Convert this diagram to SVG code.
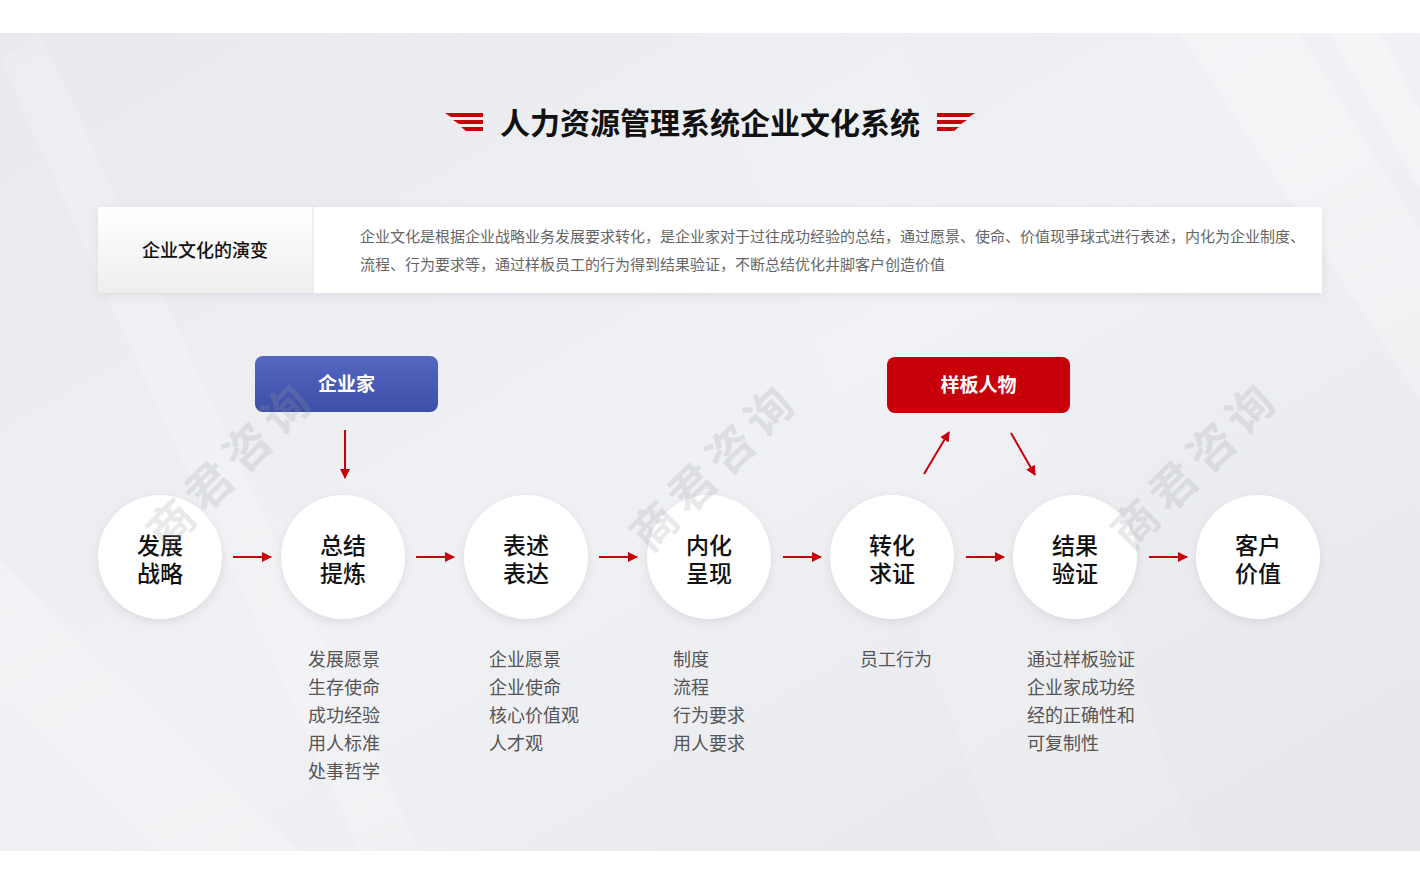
<svg xmlns="http://www.w3.org/2000/svg" width="1420" height="878" viewBox="0 0 1420 878">
<defs>
<linearGradient id="bg" x1="0" y1="0" x2="1" y2="1">
<stop offset="0" stop-color="#e9eaee"/>
<stop offset="0.5" stop-color="#f0f1f4"/>
<stop offset="1" stop-color="#e6e7eb"/>
</linearGradient>
<linearGradient id="blue" x1="0" y1="0" x2="0" y2="1">
<stop offset="0" stop-color="#5667c2"/>
<stop offset="1" stop-color="#3c4ea7"/>
</linearGradient>
<linearGradient id="cell" x1="0" y1="0" x2="0" y2="1">
<stop offset="0" stop-color="#ffffff"/>
<stop offset="1" stop-color="#eeeeef"/>
</linearGradient>
<filter id="sh" x="-20%" y="-20%" width="140%" height="150%">
<feDropShadow dx="0" dy="3" stdDeviation="5" flood-color="#8a8fa0" flood-opacity="0.22"/>
</filter>
<filter id="shb" x="-5%" y="-30%" width="110%" height="160%">
<feDropShadow dx="0" dy="2" stdDeviation="4" flood-color="#8a8fa0" flood-opacity="0.2"/>
</filter>
<marker id="ah" viewBox="0 0 10 10" refX="9" refY="5" markerWidth="10" markerHeight="10" markerUnits="userSpaceOnUse" orient="auto">
<path d="M0,0 L10,5 L0,10 Z" fill="#c8000a"/>
</marker>
<style>
.cjk{font-family:"Noto Sans CJK SC","Noto Sans",sans-serif;}
.circ{fill:#ffffff;filter:url(#sh);}
.ctext{font-size:23px;fill:#111;text-anchor:middle;font-weight:500;}
.list{font-size:18px;fill:#555;}
.conn{stroke:#c8000a;stroke-width:2;fill:none;marker-end:url(#ah);}
.wm{font-size:46px;font-weight:700;fill:#9a9ca4;fill-opacity:0.22;letter-spacing:8px;text-anchor:middle;}
.btext{font-size:19px;font-weight:700;fill:#fff;text-anchor:middle;}
</style>
</defs>
<rect x="0" y="0" width="1420" height="878" fill="#ffffff"/>
<rect x="0" y="33" width="1420" height="818" fill="url(#bg)"/>
<g fill="#ffffff">
<polygon points="0,60 40,33 420,851 360,851" fill-opacity="0.18"/>
<polygon points="1180,33 1300,33 1420,230 1420,400" fill-opacity="0.25"/>
<polygon points="0,560 0,700 160,851 300,851" fill-opacity="0.18"/>
<polygon points="1330,33 1380,33 1420,110 1420,190" fill-opacity="0.3"/>
<polygon points="700,33 900,33 1200,851 1000,851" fill-opacity="0.1"/>
</g>

<g id="title">
<polygon points="445,113 483,113 483,117 451,117" fill="#c8000a"/>
<polygon points="453,120 483,120 483,124 459,124" fill="#c8000a"/>
<polygon points="461,127 483,127 483,131 466,131" fill="#c8000a"/>
<polygon points="937,113 975,113 969,117 937,117" fill="#c8000a"/>
<polygon points="937,120 967,120 961,124 937,124" fill="#c8000a"/>
<polygon points="937,127 959,127 954,131 937,131" fill="#c8000a"/>
<text class="cjk" x="710" y="134" font-size="30" font-weight="700" fill="#111" text-anchor="middle">人力资源管理系统企业文化系统</text>
</g>

<g id="desc">
<rect x="98" y="207" width="1224" height="86" fill="#ffffff" filter="url(#shb)"/>
<rect x="98" y="207" width="215" height="86" fill="url(#cell)"/>
<line x1="313" y1="207" x2="313" y2="293" stroke="#e2e2e4" stroke-width="1"/>
<text class="cjk" x="205" y="257" font-size="18" font-weight="500" fill="#111" text-anchor="middle">企业文化的演变</text>
<text class="cjk" x="360" y="242" font-size="15" fill="#666">企业文化是根据企业战略业务发展要求转化，是企业家对于过往成功经验的总结，通过愿景、使命、价值现爭球式进行表述，内化为企业制度、</text>
<text class="cjk" x="360" y="270" font-size="15" fill="#666">流程、行为要求等，通过样板员工的行为得到结果验证，不断总结优化井脚客户创造价值</text>
</g>

<g id="node-qiyejia">
<rect x="255" y="356" width="183" height="56" rx="8" fill="url(#blue)"/>
<text class="cjk btext" x="346.500" y="391">企业家</text>
</g>
<g id="node-yangban">
<rect x="887" y="357" width="183" height="56" rx="8" fill="#c8000a"/>
<text class="cjk btext" x="978.500" y="392">样板人物</text>
</g>

<g id="node-1"><circle class="circ" cx="160" cy="557" r="62"/><text class="cjk ctext" x="160" y="554">发展<tspan x="160" dy="28">战略</tspan></text></g>
<g id="node-2"><circle class="circ" cx="343" cy="557" r="62"/><text class="cjk ctext" x="343" y="554">总结<tspan x="343" dy="28">提炼</tspan></text></g>
<g id="node-3"><circle class="circ" cx="526" cy="557" r="62"/><text class="cjk ctext" x="526" y="554">表述<tspan x="526" dy="28">表达</tspan></text></g>
<g id="node-4"><circle class="circ" cx="709" cy="557" r="62"/><text class="cjk ctext" x="709" y="554">内化<tspan x="709" dy="28">呈现</tspan></text></g>
<g id="node-5"><circle class="circ" cx="892" cy="557" r="62"/><text class="cjk ctext" x="892" y="554">转化<tspan x="892" dy="28">求证</tspan></text></g>
<g id="node-6"><circle class="circ" cx="1075" cy="557" r="62"/><text class="cjk ctext" x="1075" y="554">结果<tspan x="1075" dy="28">验证</tspan></text></g>
<g id="node-7"><circle class="circ" cx="1258" cy="557" r="62"/><text class="cjk ctext" x="1258" y="554">客户<tspan x="1258" dy="28">价值</tspan></text></g>

<g id="connectors">
<line class="conn" x1="233" y1="557" x2="271" y2="557"/>
<line class="conn" x1="416" y1="557" x2="454" y2="557"/>
<line class="conn" x1="599" y1="557" x2="637" y2="557"/>
<line class="conn" x1="783" y1="557" x2="821" y2="557"/>
<line class="conn" x1="966" y1="557" x2="1004" y2="557"/>
<line class="conn" x1="1149" y1="557" x2="1187" y2="557"/>
<line class="conn" x1="345" y1="430" x2="345" y2="478"/>
<line class="conn" x1="924" y1="474" x2="949" y2="432"/>
<line class="conn" x1="1011" y1="433" x2="1035" y2="475"/>
</g>

<g id="lists">
<text class="cjk list" x="308" y="666">发展愿景</text>
<text class="cjk list" x="308" y="694">生存使命</text>
<text class="cjk list" x="308" y="722">成功经验</text>
<text class="cjk list" x="308" y="750">用人标准</text>
<text class="cjk list" x="308" y="778">处事哲学</text>
<text class="cjk list" x="489" y="666">企业愿景</text>
<text class="cjk list" x="489" y="694">企业使命</text>
<text class="cjk list" x="489" y="722">核心价值观</text>
<text class="cjk list" x="489" y="750">人才观</text>
<text class="cjk list" x="673" y="666">制度</text>
<text class="cjk list" x="673" y="694">流程</text>
<text class="cjk list" x="673" y="722">行为要求</text>
<text class="cjk list" x="673" y="750">用人要求</text>
<text class="cjk list" x="860" y="666">员工行为</text>
<text class="cjk list" x="1027" y="666">通过样板验证</text>
<text class="cjk list" x="1027" y="694">企业家成功经</text>
<text class="cjk list" x="1027" y="722">经的正确性和</text>
<text class="cjk list" x="1027" y="750">可复制性</text>
</g>

<g id="watermarks">
<text class="cjk wm" transform="translate(243,476) rotate(-45)">商君咨询</text>
<text class="cjk wm" transform="translate(726,478) rotate(-45)">商君咨询</text>
<text class="cjk wm" transform="translate(1207,476) rotate(-45)">商君咨询</text>
</g>
</svg>
